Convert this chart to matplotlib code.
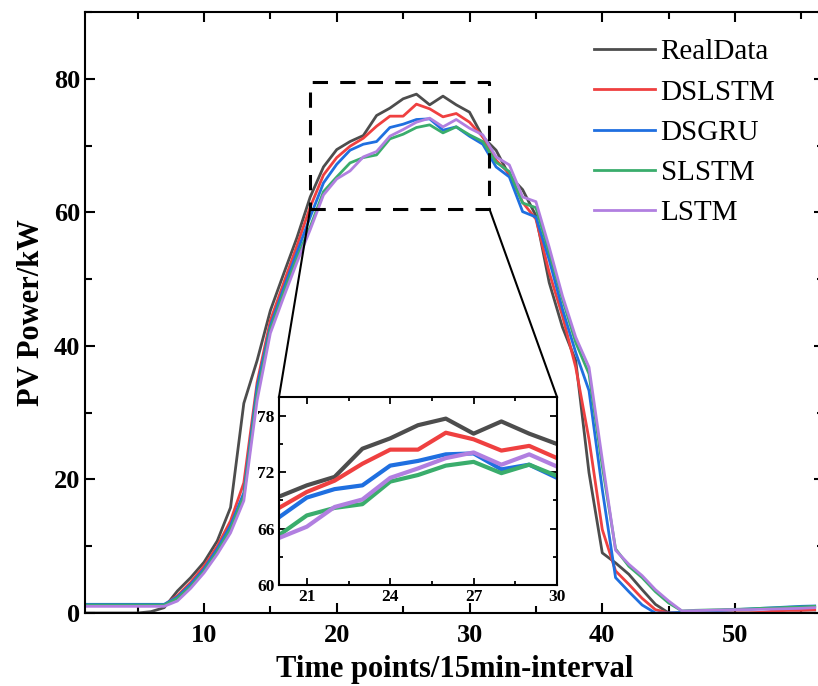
import numpy as np
import matplotlib
matplotlib.use('Agg')
import matplotlib.pyplot as plt
from matplotlib.ticker import MultipleLocator

plt.rcParams['font.family'] = ['Liberation Serif', 'DejaVu Serif']

# time points 1..56
t = np.arange(1, 57)

real = [0, 0, 0, 0, 0, 0.2, 0.8, 3.3, 5.3, 7.6, 10.8, 15.8, 31.4, 37.8, 45.3, 50.8,
        56.2, 62.3, 66.8, 69.4, 70.6, 71.5, 74.5, 75.6, 77.0, 77.7, 76.1, 77.4, 76.1,
        75.0, 71.3, 69.3, 65.5, 63.4, 59.5, 49.5, 42.8, 37.8, 21.0, 9.0, 7.5, 5.8,
        3.5, 1.3, 0, 0, 0, 0, 0, 0, 0, 0, 0, 0, 0, 0]
dslstm = [1.1, 1.1, 1.1, 1.1, 1.1, 1.1, 1.2, 2.6, 4.6, 7.0, 10.0, 13.8, 19.5, 34.5,
          43.8, 49.4, 55.0, 60.8, 65.6, 68.2, 69.9, 71.1, 72.9, 74.4, 74.4, 76.2, 75.5,
          74.3, 74.8, 73.5, 71.3, 67.8, 65.8, 61.5, 59.0, 51.0, 44.5, 36.8, 26.0, 12.5,
          6.3, 4.3, 2.2, 0.5, 0, 0, 0, 0, 0, 0, 0, 0.1, 0.3, 0.4, 0.4, 0.5]
dsgru = [1.3, 1.3, 1.3, 1.3, 1.3, 1.3, 1.3, 2.4, 4.3, 6.6, 9.6, 13.1, 18.0, 33.8,
         43.0, 48.6, 54.0, 59.3, 64.4, 67.2, 69.3, 70.2, 70.6, 72.7, 73.2, 73.9, 74.0,
         72.3, 72.8, 71.4, 70.2, 66.8, 65.3, 60.1, 59.3, 52.9, 45.5, 39.0, 33.3, 18.5,
         5.3, 3.2, 1.2, 0, 0, 0.1, 0.2, 0.3, 0.4, 0.5, 0.6, 0.7, 0.8, 0.9, 1.0, 1.05]
slstm = [1.2, 1.2, 1.2, 1.2, 1.2, 1.2, 1.2, 2.2, 4.0, 6.3, 9.2, 12.6, 17.5, 32.8,
         42.5, 48.0, 53.2, 57.8, 63.1, 65.3, 67.4, 68.2, 68.6, 71.0, 71.7, 72.7, 73.1,
         71.9, 72.8, 71.6, 70.6, 67.5, 66.1, 61.4, 60.7, 54.0, 47.0, 40.5, 35.8, 22.0,
         9.6, 7.0, 5.3, 3.2, 1.5, 0.3, 0.4, 0.45, 0.5, 0.55, 0.6, 0.7, 0.75, 0.85, 0.9, 1.0]
lstm = [1.0, 1.0, 1.0, 1.0, 1.0, 1.0, 1.0, 1.8, 3.7, 6.0, 8.8, 12.0, 16.8, 31.8,
        41.9, 47.3, 52.5, 57.4, 62.6, 65.0, 66.2, 68.3, 69.1, 71.4, 72.4, 73.5, 74.1,
        72.8, 73.9, 72.6, 71.6, 68.3, 67.1, 62.3, 61.6, 54.8, 47.5, 41.3, 36.8, 23.0,
        9.4, 7.3, 5.6, 3.5, 1.8, 0.3, 0.35, 0.4, 0.45, 0.5, 0.5, 0.55, 0.6, 0.65, 0.7, 0.8]

names = ['RealData', 'DSLSTM', 'DSGRU', 'SLSTM', 'LSTM']
colors = ['#4d4d4d', '#ef4040', '#1f6fe0', '#3aad6c', '#b17fe0']
series = [real, dslstm, dsgru, slstm, lstm]

fig = plt.figure(figsize=(8.18, 6.86), dpi=100)
ax = fig.add_axes([84.5 / 818, 73 / 686, 739.5 / 818, 601 / 686])

for y, c, n in zip(series, colors, names):
    ax.plot(t, y, color=c, lw=2.0, label=n)

ax.set_xlim(1, 56.7)
ax.set_ylim(0, 90)
ax.xaxis.set_major_locator(MultipleLocator(10))
ax.xaxis.set_minor_locator(MultipleLocator(5))
ax.yaxis.set_major_locator(MultipleLocator(20))
ax.yaxis.set_minor_locator(MultipleLocator(10))
ax.tick_params(which='both', direction='in', top=True, right=True, width=1.5)
ax.tick_params(which='major', length=7, labelsize=19)
ax.tick_params(axis='y', which='major', pad=3)
ax.tick_params(axis='x', which='major', pad=8)
ax.tick_params(which='minor', length=5)
for lab in ax.get_xticklabels() + ax.get_yticklabels():
    lab.set_fontweight('bold')
for sp in ax.spines.values():
    sp.set_linewidth(1.5)

ax.set_xlabel('Time points/15min-interval', fontsize=22, fontweight='bold', labelpad=6)
ax.set_ylabel('PV Power/kW', fontsize=22, fontweight='bold', labelpad=6)

ax.legend(loc='upper left', bbox_to_anchor=(0.689, 0.955), frameon=False,
          fontsize=21, handlelength=2.1, handletextpad=0.18, labelspacing=0.47,
          borderaxespad=0, borderpad=0)

# zoom box
x0, x1, y0, y1 = 18.0, 31.5, 60.5, 79.5
ax.plot([x0, x1, x1, x0, x0], [y0, y0, y1, y1, y0], color='black', lw=2.2,
        linestyle=(0, (5, 4)))

# inset
ins = fig.add_axes([279 / 818, 101 / 686, 278 / 818, 188 / 686])
for y, c in zip(series, colors):
    ins.plot(t, y, color=c, lw=3.0)
ins.set_xlim(20, 30)
ins.set_ylim(60, 80)
ins.set_xticks([21, 24, 27, 30])
ins.set_xticks([22.5, 25.5, 28.5], minor=True)
ins.set_yticks([60, 66, 72, 78])
ins.set_yticks([63, 69, 75], minor=True)
ins.tick_params(which='both', direction='in', top=True, right=True, width=1.3)
ins.tick_params(which='major', length=5, labelsize=12.5, pad=3)
ins.tick_params(which='minor', length=3)
for lab in ins.get_xticklabels() + ins.get_yticklabels():
    lab.set_fontweight('bold')
for sp in ins.spines.values():
    sp.set_linewidth(1.5)

# connector lines from zoom box to inset
fig_inv = fig.transFigure.inverted()
p_bl = fig_inv.transform(ax.transData.transform((x0, y0)))
p_br = fig_inv.transform(ax.transData.transform((x1, y0)))
ins_tl = (279 / 818, 289 / 686)
ins_tr = (557 / 818, 289 / 686)
fig.add_artist(plt.Line2D([p_bl[0], ins_tl[0]], [p_bl[1], ins_tl[1]],
                          color='black', lw=1.5, transform=fig.transFigure))
fig.add_artist(plt.Line2D([p_br[0], ins_tr[0]], [p_br[1], ins_tr[1]],
                          color='black', lw=1.5, transform=fig.transFigure))

fig.savefig('out.png', dpi=100)
